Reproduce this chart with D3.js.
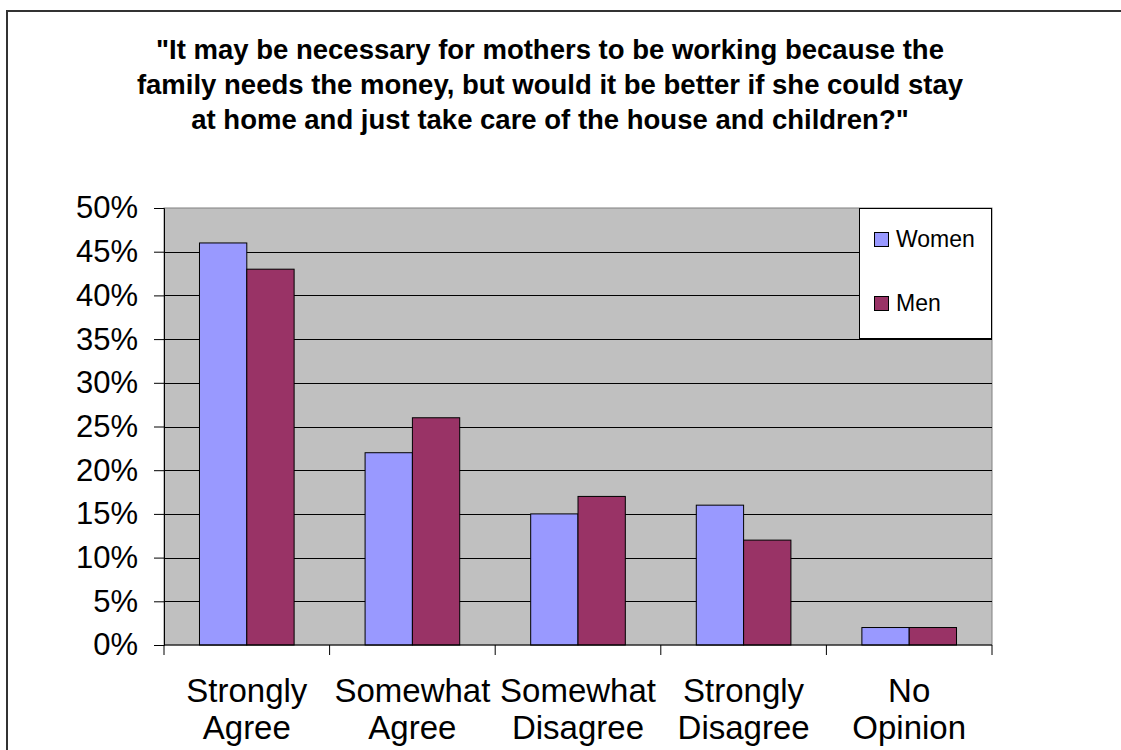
<!DOCTYPE html>
<html>
<head>
<meta charset="utf-8">
<script src="https://cdnjs.cloudflare.com/ajax/libs/d3/7.8.5/d3.min.js"></script>
<style>
  body { margin: 0; background: #fff; }
  svg { display: block; font-family: Arial, "Liberation Sans", sans-serif; }
</style>
</head>
<body>
<div id="chart"></div>
<script>
// data
const titleLines = [
  '"It may be necessary for mothers to be working because the',
  'family needs the money, but would it be better if she could stay',
  'at home and just take care of the house and children?"'
];
const categories = ['Strongly Agree', 'Somewhat Agree', 'Somewhat Disagree', 'Strongly Disagree', 'No Opinion'];
const seriesNames = ['Women', 'Men'];
const women = [46, 22, 15, 16, 2];
const men = [43, 26, 17, 12, 2];
const yTicks = [0, 5, 10, 15, 20, 25, 30, 35, 40, 45, 50];
const colors = ['#9999FF', '#993366'];

const w = 1121;
const h = 750;
const margins = { left: 164, right: 129, top: 208, bottom: 105 };

const svg = d3.select('#chart').append('svg')
  .attr('width', w)
  .attr('height', h);

// outer chart frame (runs past the right and bottom edge)
svg.append('rect')
  .attr('x', 7)
  .attr('y', 11)
  .attr('width', 1200)
  .attr('height', 900)
  .attr('fill', '#fff')
  .attr('stroke', '#333')
  .attr('stroke-width', 2);

// title
svg.append('g')
  .selectAll('text')
  .data(titleLines)
  .enter()
  .append('text')
  .attr('x', 550)
  .attr('y', (d, i) => 59 + i * 35)
  .attr('text-anchor', 'middle')
  .style('font-weight', 'bold')
  .style('font-size', '27.5px')
  .text(d => d);

const x0 = d3.scaleBand()
  .domain(categories)
  .range([margins.left, w - margins.right]);

const x1 = d3.scaleBand()
  .domain(seriesNames)
  .range([0, x0.bandwidth()])
  .paddingInner(0)
  .paddingOuter(0.75);

const y = d3.scaleLinear()
  .domain([0, 50])
  .range([h - margins.bottom, margins.top]);

const plotW = w - margins.left - margins.right;
const plotH = h - margins.top - margins.bottom;

// plot area
svg.append('rect')
  .attr('x', margins.left)
  .attr('y', margins.top)
  .attr('width', plotW)
  .attr('height', plotH)
  .attr('fill', '#C0C0C0')
  .attr('stroke', '#808080')
  .attr('stroke-width', 1);

// gridlines
svg.append('g')
  .selectAll('line')
  .data(yTicks.filter(t => t > 0 && t < 50))
  .enter()
  .append('line')
  .attr('x1', margins.left)
  .attr('x2', margins.left + plotW)
  .attr('y1', d => Math.round(y(d)) + 0.5)
  .attr('y2', d => Math.round(y(d)) + 0.5)
  .attr('stroke', '#000')
  .attr('stroke-width', 1);

// bars
const groups = svg.append('g')
  .selectAll('g')
  .data(categories.map((c, i) => ({ name: c, values: [women[i], men[i]] })))
  .enter()
  .append('g')
  .attr('transform', d => `translate(${x0(d.name)}, 0)`);

groups.selectAll('rect')
  .data(d => d.values.map((v, i) => ({ key: seriesNames[i], value: v, i: i })))
  .enter()
  .append('rect')
  .attr('x', d => x1(d.key))
  .attr('y', d => y(d.value))
  .attr('width', x1.bandwidth())
  .attr('height', d => y(0) - y(d.value))
  .attr('fill', d => colors[d.i])
  .attr('stroke', '#000')
  .attr('stroke-width', 1);

// y axis
const yAxis = d3.axisLeft(y)
  .tickValues(yTicks)
  .tickFormat(d => d + '%')
  .tickSize(10)
  .tickPadding(16);

svg.append('g')
  .attr('transform', `translate(${margins.left}, 0)`)
  .call(yAxis)
  .call(g => g.select('.domain').attr('stroke', '#000'))
  .call(g => g.selectAll('.tick line').attr('stroke', '#000'))
  .call(g => g.selectAll('.tick text')
    .attr('fill', '#000')
    .style('font-size', '31px')
    .style('font-family', 'Arial, "Liberation Sans", sans-serif'));

// x axis line and category ticks
svg.append('line')
  .attr('x1', margins.left)
  .attr('x2', margins.left + plotW)
  .attr('y1', y(0))
  .attr('y2', y(0))
  .attr('stroke', '#000');

const tickXs = categories.map(c => x0(c)).concat([x0.range()[1]]);
svg.append('g')
  .selectAll('line')
  .data(tickXs)
  .enter()
  .append('line')
  .attr('x1', d => d)
  .attr('x2', d => d)
  .attr('y1', y(0))
  .attr('y2', y(0) + 10)
  .attr('stroke', '#000');

// category labels, two lines each
const catLabels = svg.append('g')
  .selectAll('text')
  .data(categories)
  .enter()
  .append('text')
  .attr('text-anchor', 'middle')
  .style('font-size', '33px');

catLabels.selectAll('tspan')
  .data(d => d.split(' ').map(part => ({ part: part, cat: d })))
  .enter()
  .append('tspan')
  .attr('x', d => x0(d.cat) + x0.bandwidth() / 2)
  .attr('y', (d, i) => 702 + i * 36.5)
  .text(d => d.part);

// legend
const legend = svg.append('g')
  .attr('class', 'legend');

legend.append('rect')
  .attr('x', 859.5)
  .attr('y', 208.5)
  .attr('width', 132)
  .attr('height', 130)
  .attr('fill', '#fff')
  .attr('stroke', '#000');

seriesNames.forEach((s, i) => {
  legend.append('rect')
    .attr('x', 874.5)
    .attr('y', 232.5 + i * 64)
    .attr('width', 14)
    .attr('height', 14)
    .attr('fill', colors[i])
    .attr('stroke', '#000');

  legend.append('text')
    .attr('x', 896)
    .attr('y', 247 + i * 64)
    .style('font-size', '23px')
    .text(s);
});
</script>
</body>
</html>
